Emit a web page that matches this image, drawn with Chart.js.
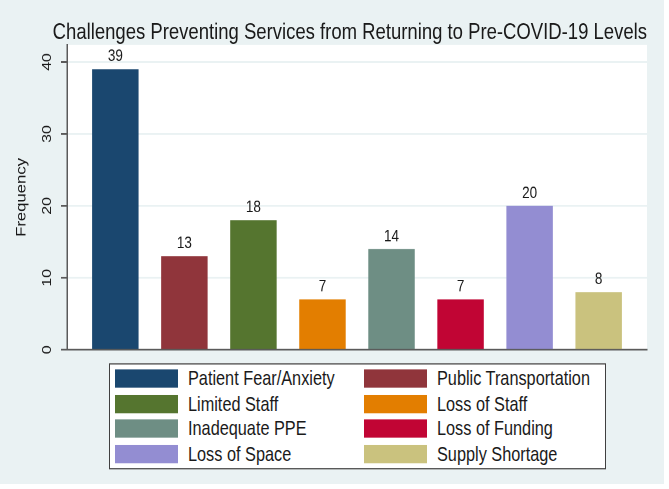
<!DOCTYPE html>
<html>
<head>
<meta charset="utf-8">
<script src="https://cdn.jsdelivr.net/npm/chart.js@4.4.1/dist/chart.umd.min.js"></script>
<style>
    html, body { margin: 0; padding: 0; background: #ffffff; }
    body { width: 669px; height: 489px; overflow: hidden; }

    /* a figura original é um pouco esticada na vertical */
    #quadro {
        position: relative;
        width: 664px;
        height: 397px;
        background: #eaf2f3;
        transform: scaleY(1.2191);
        transform-origin: 0 0;
    }

    #legenda {
        position: absolute;
        left: 109px;
        top: 297.5px;
        width: 495px;
        height: 85.7px;
        border: 1px solid #404040;
        background: #ffffff;
        font-family: 'Liberation Sans', Arial, sans-serif;
        font-size: 16.3px;
        color: #1a1a1a;
    }

    .item {
        position: absolute;
        display: flex;
        align-items: center;
        height: 20px;
        white-space: nowrap;
    }

    .cor {
        width: 62.5px;
        height: 14.8px;
        margin-right: 10.5px;
    }
</style>
</head>
<body>
<div id="quadro">
    <canvas id="grafico"></canvas>
    <div id="legenda"></div>
</div>

<script>
    const titulo = 'Challenges Preventing Services from Returning to Pre-COVID-19 Levels'
    const categorias = ['Patient Fear/Anxiety', 'Public Transportation', 'Limited Staff', 'Loss of Staff', 'Inadequate PPE', 'Loss of Funding', 'Loss of Space', 'Supply Shortage']
    const frequencias = [39, 13, 18, 7, 14, 7, 20, 8]
    const cores = ['#1a476f', '#90353b', '#55752f', '#e37e00', '#6e8e84', '#c10534', '#938dd2', '#cac27e']
    const ticksY = [0, 10, 20, 30, 40]

    const corTexto = '#1a1a1a'
    const corEixo = '#5a5a5a'

    Chart.defaults.font.family = "'Liberation Sans', Arial, sans-serif"

    // fundo branco só na área do gráfico
    const fundo = {
        id: 'fundo',
        beforeDraw(chart) {
            const {ctx, chartArea} = chart
            ctx.save()
            ctx.fillStyle = '#ffffff'
            ctx.fillRect(chartArea.left, chartArea.top, chartArea.right - chartArea.left, chartArea.bottom - chartArea.top)
            ctx.restore()
        }
    }

    // valores em cima das barras
    const rotulos = {
        id: 'rotulos',
        afterDatasetsDraw(chart) {
            const ctx = chart.ctx
            const meta = chart.getDatasetMeta(0)
            ctx.save()
            ctx.font = "13.5px 'Liberation Sans', Arial, sans-serif"
            ctx.fillStyle = corTexto
            ctx.textAlign = 'center'
            ctx.textBaseline = 'alphabetic'
            meta.data.forEach((barra, i) => {
                ctx.fillText(frequencias[i], barra.x, barra.y - 6.5)
            })
            ctx.restore()
        }
    }

    const data = {
        datasets: [{
            data: frequencias.map((v, i) => ({ x: i, y: v })),
            backgroundColor: cores,
            borderWidth: 0,
            barPercentage: 0.673,
            categoryPercentage: 1
        }]
    }

    const config = {
        type: 'bar',
        data: data,
        plugins: [fundo, rotulos],
        options: {
            responsive: true,
            maintainAspectRatio: false,
            animation: false,
            devicePixelRatio: 2,
            layout: {
                autoPadding: false,
                padding: { left: 0, right: 17, top: 0, bottom: 0 }
            },
            plugins: {
                legend: { display: false },
                tooltip: { enabled: false },
                title: {
                    display: true,
                    text: titulo,
                    align: 'end',
                    color: corTexto,
                    font: { size: 18.5, weight: 'normal', lineHeight: 1 },
                    padding: { top: 17.45, bottom: 0.95 }
                }
            },
            scales: {
                x: {
                    type: 'linear',
                    min: -0.7,
                    max: 7.7,
                    offset: false,
                    // um tick por categoria, para a largura das barras
                    afterBuildTicks: (escala) => { escala.ticks = categorias.map((_, i) => ({ value: i })) },
                    ticks: { display: false },
                    grid: { display: false, drawTicks: false, offset: false },
                    border: { display: true, color: corEixo, width: 1.5 },
                    afterFit: (escala) => { escala.height = 110.1 }
                },
                y: {
                    min: 0,
                    max: 42.36,
                    afterBuildTicks: (escala) => { escala.ticks = ticksY.map(v => ({ value: v })) },
                    ticks: {
                        minRotation: 90,
                        maxRotation: 90,
                        crossAlign: 'center',
                        padding: 6.5,
                        color: corTexto,
                        font: { size: 13 }
                    },
                    grid: {
                        color: '#eaf2f3',
                        lineWidth: 1.5,
                        tickColor: corEixo,
                        tickLength: 6,
                        tickWidth: 1.5
                    },
                    border: { color: corEixo, width: 1.5 },
                    title: {
                        display: true,
                        text: 'Frequency',
                        color: corTexto,
                        font: { size: 13.7 },
                        padding: { top: 13.3, bottom: 0 }
                    },
                    afterFit: (escala) => { escala.width = 67 }
                }
            }
        }
    }

    new Chart(document.getElementById('grafico'), config)

    // legenda em duas colunas, como no original
    const legenda = document.getElementById('legenda')
    categorias.forEach((nome, i) => {
        const item = document.createElement('div')
        item.className = 'item'
        item.style.left = (i % 2 === 0 ? 5 : 254) + 'px'
        item.style.top = (2.2 + Math.floor(i / 2) * 20.47) + 'px'

        const cor = document.createElement('span')
        cor.className = 'cor'
        cor.style.background = cores[i]

        const texto = document.createElement('span')
        texto.textContent = nome

        item.appendChild(cor)
        item.appendChild(texto)
        legenda.appendChild(item)
    })
</script>
</body>
</html>
